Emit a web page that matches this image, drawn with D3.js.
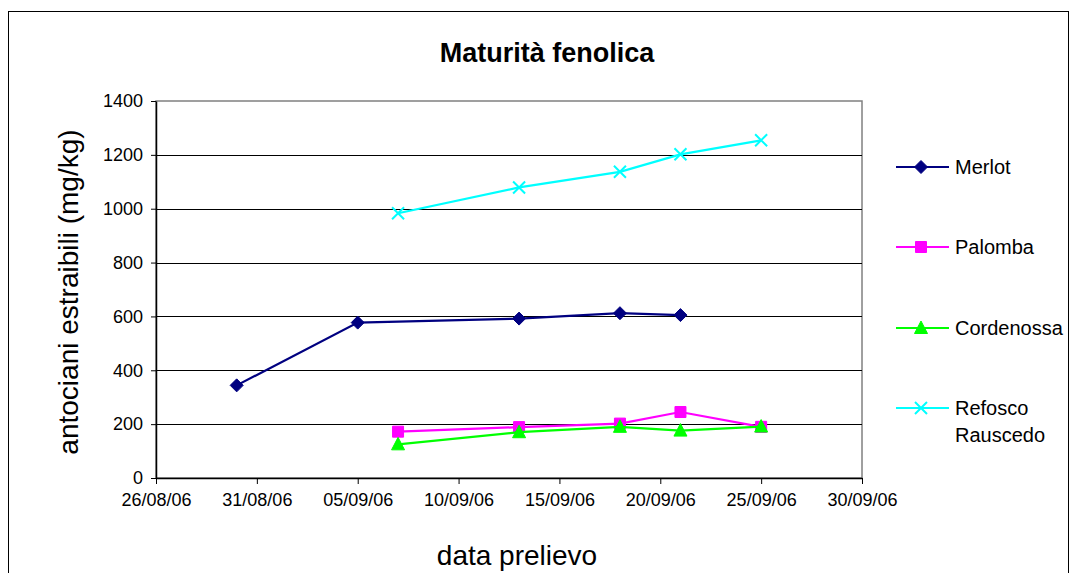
<!DOCTYPE html>
<html>
<head>
<meta charset="utf-8">
<script src="https://cdn.jsdelivr.net/npm/d3@7"></script>
<style>
  html, body { margin: 0; padding: 0; background: #fff; }
  svg { display: block; font-family: "Liberation Sans", Arial, sans-serif; }
</style>
</head>
<body>
<svg id="chart" width="1073" height="573"></svg>
<script>
// Sampling dates and extractable anthocyanins (mg/kg) per variety
const merlotDates = ["30/08/06", "05/09/06", "13/09/06", "18/09/06", "21/09/06"];
const merlotValues = [344, 577, 592, 612, 605];

const otherDates = ["07/09/06", "13/09/06", "18/09/06", "21/09/06", "25/09/06"];
const palombaValues = [172, 189, 202, 245, 190];
const cordenossaValues = [125, 170, 190, 176, 191];
const refoscoValues = [983, 1079, 1137, 1202, 1254];

const xTickLabels = ["26/08/06", "31/08/06", "05/09/06", "10/09/06", "15/09/06", "20/09/06", "25/09/06", "30/09/06"];
const yTickValues = [0, 200, 400, 600, 800, 1000, 1200, 1400];

const parse = d3.utcParse("%d/%m/%y");
const fmt = d3.utcFormat("%d/%m/%y");
const FONT = "'Liberation Sans', Arial, sans-serif";

const series = [
  { name: ["Merlot"], color: "#000080", symbol: "diamond", dates: merlotDates, values: merlotValues },
  { name: ["Palomba"], color: "#FF00FF", symbol: "square", dates: otherDates, values: palombaValues },
  { name: ["Cordenossa"], color: "#00FF00", symbol: "triangle", dates: otherDates, values: cordenossaValues },
  { name: ["Refosco", "Rauscedo"], color: "#00FFFF", symbol: "cross", dates: otherDates, values: refoscoValues }
];

const svg = d3.select("#chart");
const plot = { left: 156, right: 862, top: 101, bottom: 478 };

// Outer chart frame
svg.append("rect")
  .attr("x", 8.5).attr("y", 11.5)
  .attr("width", 1060).attr("height", 600)
  .attr("fill", "#fff").attr("stroke", "#000").attr("stroke-width", 1);

const x = d3.scaleUtc()
  .domain([parse(xTickLabels[0]), parse(xTickLabels[xTickLabels.length - 1])])
  .range([plot.left, plot.right]);
const y = d3.scaleLinear().domain([0, 1400]).range([plot.bottom, plot.top]);

// Plot area border
svg.append("rect")
  .attr("x", plot.left).attr("y", plot.top)
  .attr("width", plot.right - plot.left).attr("height", plot.bottom - plot.top)
  .attr("fill", "#fff").attr("stroke", "#808080").attr("stroke-width", 1.5);

// Horizontal gridlines
svg.append("g").selectAll("line")
  .data(yTickValues.filter(v => v > 0 && v < 1400))
  .join("line")
  .attr("x1", plot.left).attr("x2", plot.right)
  .attr("y1", d => Math.round(y(d)) + 0.5).attr("y2", d => Math.round(y(d)) + 0.5)
  .attr("stroke", "#000").attr("stroke-width", 1);

// Y axis
const yAxis = svg.append("g")
  .attr("transform", `translate(${plot.left},0)`)
  .call(d3.axisLeft(y).tickValues(yTickValues).tickFormat(d3.format("d"))
    .tickSize(5).tickPadding(8).tickSizeOuter(0));
yAxis.attr("font-size", 18).attr("font-family", FONT);
yAxis.select(".domain").attr("stroke", "#000").attr("stroke-width", 1.5);
yAxis.selectAll(".tick line").attr("stroke", "#000");
yAxis.selectAll(".tick text").attr("fill", "#000");

// X axis
const xAxis = svg.append("g")
  .attr("transform", `translate(0,${plot.bottom})`)
  .call(d3.axisBottom(x).tickValues(xTickLabels.map(parse)).tickFormat(fmt)
    .tickSize(6).tickPadding(9).tickSizeOuter(0));
xAxis.attr("font-size", 18).attr("font-family", FONT);
xAxis.select(".domain").attr("stroke", "#000").attr("stroke-width", 1.5);
xAxis.selectAll(".tick line").attr("stroke", "#000");
xAxis.selectAll(".tick text").attr("fill", "#000");

// Marker shapes
function markerPath(symbol) {
  switch (symbol) {
    case "diamond": return "M0,-6.5L6.5,0L0,6.5L-6.5,0Z";
    case "square": return "M-5.5,-5.5H5.5V5.5H-5.5Z";
    case "triangle": return "M0,-7L6.5,5.5H-6.5Z";
    case "cross": return "M-6,-6L6,6M-6,6L6,-6";
  }
}
function drawMarker(g, s) {
  const p = g.append("path").attr("d", markerPath(s.symbol));
  if (s.symbol === "cross") {
    p.attr("fill", "none").attr("stroke", s.color).attr("stroke-width", 2);
  } else {
    p.attr("fill", s.color).attr("stroke", s.color).attr("stroke-width", 1);
  }
}

const line = d3.line().x(d => x(d.date)).y(d => y(d.value));

series.forEach(s => {
  const pts = s.dates.map((d, i) => ({ date: parse(d), value: s.values[i] }));
  const g = svg.append("g");
  g.append("path").datum(pts)
    .attr("d", line)
    .attr("fill", "none").attr("stroke", s.color).attr("stroke-width", 2.2);
  pts.forEach(p => {
    const m = g.append("g").attr("transform", `translate(${x(p.date)},${y(p.value)})`);
    drawMarker(m, s);
  });
});

// Legend
const legendY = [167, 247, 328, 408];
series.forEach((s, i) => {
  const g = svg.append("g").attr("transform", `translate(896,${legendY[i]})`);
  g.append("line").attr("x1", 0).attr("x2", 53).attr("y1", 0).attr("y2", 0)
    .attr("stroke", s.color).attr("stroke-width", 2);
  drawMarker(g.append("g").attr("transform", "translate(25,0)"), s);
  s.name.forEach((t, j) => {
    g.append("text").attr("x", 59).attr("y", j * 27 + 7)
      .attr("font-size", 20).attr("font-family", FONT).attr("fill", "#000").text(t);
  });
});

// Title and axis titles
svg.append("text").attr("x", 547).attr("y", 62).attr("text-anchor", "middle")
  .attr("font-size", 27).attr("font-weight", "bold").attr("font-family", FONT).attr("fill", "#000")
  .text("Maturità fenolica");

svg.append("text")
  .attr("transform", "translate(78,292) rotate(-90)")
  .attr("text-anchor", "middle").attr("font-size", 28).attr("font-family", FONT).attr("fill", "#000")
  .text("antociani estraibili (mg/kg)");

svg.append("text").attr("x", 517).attr("y", 565).attr("text-anchor", "middle")
  .attr("font-size", 28).attr("font-family", FONT).attr("fill", "#000")
  .text("data prelievo");
</script>
</body>
</html>
